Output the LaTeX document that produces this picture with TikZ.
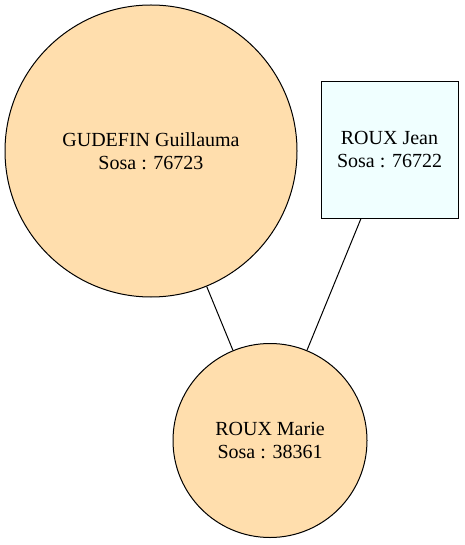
\documentclass[tikz,border=0pt]{standalone}
\usepackage{fontspec}
\setmainfont{Liberation Serif}
\definecolor{navajo}{HTML}{FFDEAD}
\definecolor{azurec}{HTML}{F0FFFF}
\begin{document}
\begin{tikzpicture}[x=1pt,y=-1pt,
  person/.style={draw=black,line width=1pt,fill=navajo,circle,inner sep=0pt,
    font=\fontsize{20}{23}\selectfont,align=center},
  male/.style={draw=black,line width=1pt,fill=azurec,rectangle,inner sep=0pt,
    font=\fontsize{20}{23}\selectfont,align=center},
  link/.style={line width=1pt,draw=black}]
\useasboundingbox (0,0) rectangle (464,545);
\node[person,minimum size=292pt] (g) at (151,151) {GUDEFIN Guillauma\\Sosa : 76723};
\node[male,minimum width=137pt,minimum height=136pt] (j) at (389.5,150) {ROUX Jean\\Sosa : 76722};
\node[person,minimum size=194pt] (m) at (270,440.5) {ROUX Marie\\Sosa : 38361};
\draw[link] (g) -- (m);
\draw[link] (j.south -| 361,0) -- (m);
\end{tikzpicture}
\end{document}
